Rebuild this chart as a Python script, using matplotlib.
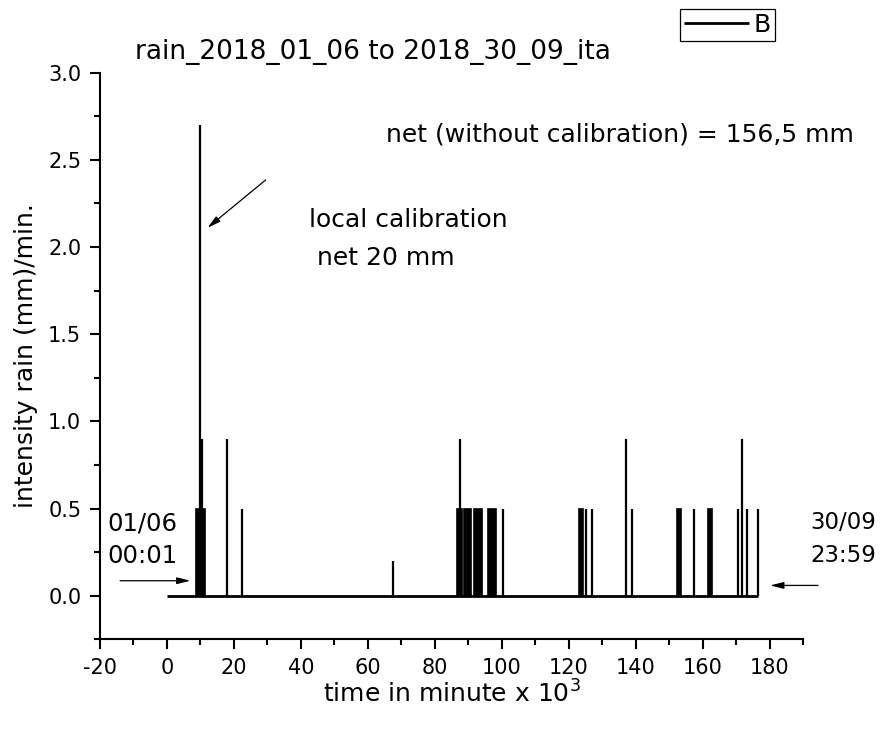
import matplotlib
matplotlib.use('Agg')
import matplotlib.pyplot as plt

plt.rcParams['font.family'] = ['DejaVu Sans']

# time in minute x 10^3 / intensity (mm/min)
spike_x = [10.0, 10.5, 17.8, 22.4, 67.6, 87.5, 100.5, 125.2, 126.9, 137.0,
           139.0, 157.3, 170.5, 171.8, 173.2, 176.5]
spike_h = [2.7, 0.9, 0.9, 0.5, 0.2, 0.9, 0.5, 0.5, 0.5, 0.9,
           0.5, 0.5, 0.5, 0.9, 0.5, 0.5]

# dense groups of 0.5 mm/min readings that look like solid blocks
block_start = [8.8, 86.5, 88.8, 91.8, 95.8, 123.2, 152.5, 161.5]
block_end = [11.5, 88.2, 90.8, 94.0, 98.3, 124.4, 153.5, 162.8]
block_h = [0.5, 0.5, 0.5, 0.5, 0.5, 0.5, 0.5, 0.5]

t_first = 0.0
t_last = 176.5

x_ticks = [-20, 0, 20, 40, 60, 80, 100, 120, 140, 160, 180]
y_ticks = [0.0, 0.5, 1.0, 1.5, 2.0, 2.5, 3.0]


def main():
    fig = plt.figure(figsize=(8.8, 7.3), dpi=100)
    ax = fig.add_axes([100 / 880, 1 - 639.3 / 730, 703 / 880, 566.6 / 730])

    line, = ax.plot([t_first, t_last], [0, 0], color='black', lw=2.0,
                    solid_capstyle='butt', label='B')
    widths = [e - s for s, e in zip(block_start, block_end)]
    ax.bar(block_start, block_h, width=widths, align='edge', color='black',
           edgecolor='black', linewidth=1.2)
    ax.vlines(spike_x, 0, spike_h, color='black', lw=1.6)

    ax.set_xlim(-20, 190)
    ax.set_ylim(-0.25, 3.0)
    ax.set_xticks(x_ticks)
    ax.set_xticklabels([str(v) for v in x_ticks])
    ax.set_yticks(y_ticks)
    ax.set_yticklabels(['%.1f' % v for v in y_ticks])
    ax.set_xticks(range(-20, 191, 10), minor=True)
    ax.set_yticks([-0.25 + 0.25 * i for i in range(14)], minor=True)

    for s in ['top', 'right']:
        ax.spines[s].set_visible(False)
    for s in ['left', 'bottom']:
        ax.spines[s].set_linewidth(1.5)
    ax.tick_params(which='major', direction='out', length=7.5, width=1.5,
                   labelsize=15, pad=6)
    ax.tick_params(which='minor', direction='out', length=4.5, width=1.5)

    ax.set_xlabel(r'time in minute x 10$^3$', fontsize=18, labelpad=2)
    ax.set_ylabel('intensity rain (mm)/min.', fontsize=18, labelpad=7)

    fig.text(373 / 880, 1 - 52 / 730, 'rain_2018_01_06 to 2018_30_09_ita',
             fontsize=19, ha='center', va='center')

    ax.text(65.5, 2.643, 'net (without calibration) = 156,5 mm', fontsize=18,
            va='center')
    ax.text(42.4, 2.156, 'local calibration', fontsize=18, va='center')
    ax.text(42.4, 1.938, ' net 20 mm', fontsize=18, va='center')

    ax.text(-17.9, 0.413, '01/06', fontsize=17.5, va='center')
    ax.text(-17.9, 0.229, '00:01', fontsize=17.5, va='center')
    ax.text(192.2, 0.419, '30/09', fontsize=16.5, va='center')
    ax.text(192.2, 0.229, '23:59', fontsize=16.5, va='center')

    arrow = dict(arrowstyle='-|>,head_width=0.2,head_length=0.8',
                 color='black', lw=0.9, shrinkA=0, shrinkB=0)
    ax.annotate('', xy=(12.1, 2.11), xytext=(29.5, 2.385), arrowprops=arrow)
    ax.annotate('', xy=(7.0, 0.086), xytext=(-14.0, 0.086), arrowprops=arrow,
                annotation_clip=False)
    ax.annotate('', xy=(180.2, 0.059), xytext=(194.5, 0.059), arrowprops=arrow,
                annotation_clip=False)

    leg = fig.legend(handles=[line], loc='upper left',
                     bbox_to_anchor=(680 / 880, 1 - 9 / 730), fontsize=18,
                     handlelength=2.6, handletextpad=0.2, borderpad=0.15,
                     borderaxespad=0, fancybox=False, framealpha=1,
                     edgecolor='black')
    leg.get_frame().set_linewidth(0.9)

    fig.savefig('out.png', dpi=100)


if __name__ == '__main__':
    main()
